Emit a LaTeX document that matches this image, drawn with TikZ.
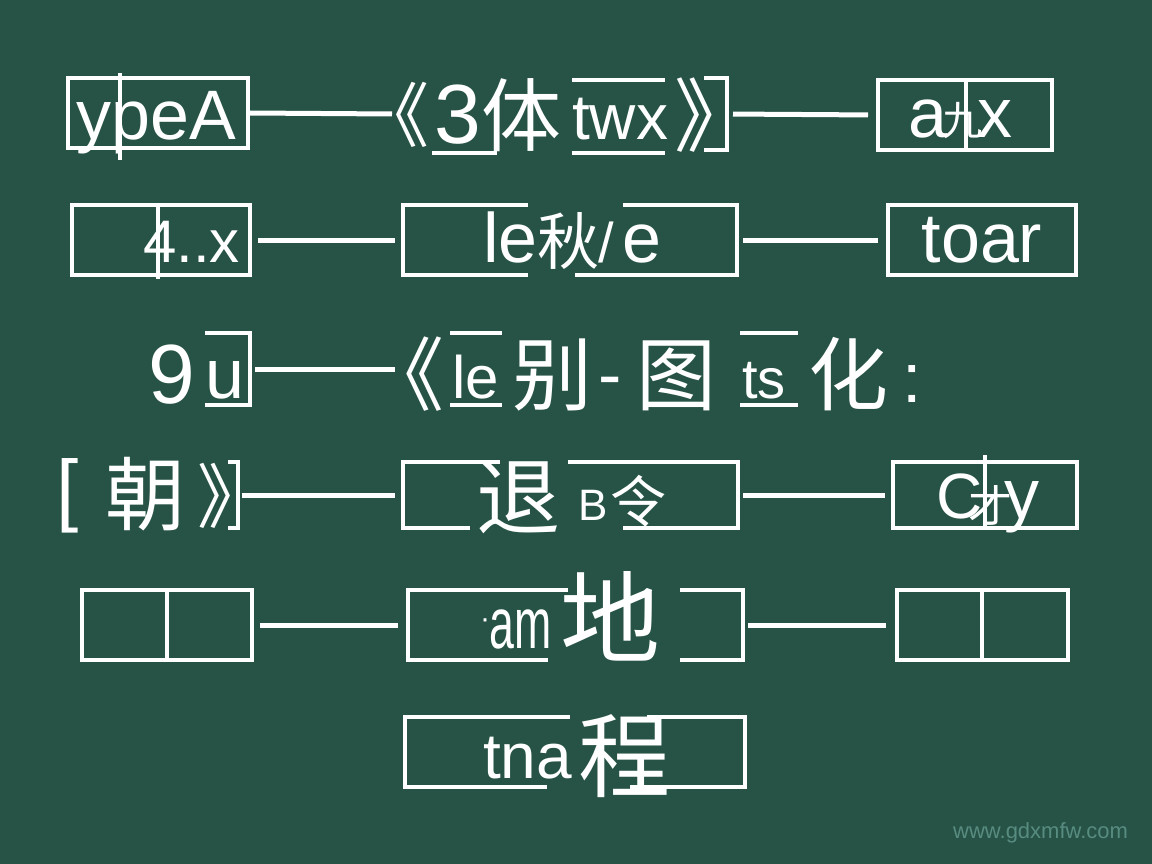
\documentclass[tikz,border=0pt]{standalone}
\usepackage{fontspec}
\setmainfont{Liberation Sans}
\newfontfamily\cjk{Noto Sans CJK SC}
\newfontfamily\narrowfont[FakeStretch=0.62]{Liberation Sans}
\usetikzlibrary{fit}
\definecolor{board}{RGB}{38,83,69}
\definecolor{wmark}{RGB}{88,140,128}
\begin{document}
\begin{tikzpicture}[x=1pt,y=-1pt,
  chalk/.style={draw=white,line width=4pt},
  wire/.style={draw=white,line width=5pt},
  boxn/.style={draw=white,line width=4pt,inner sep=0pt},
  spot/.style={inner sep=0pt,outer sep=0pt},
  lat/.style={text=white,inner sep=0pt,font=\fontsize{70}{70}\selectfont},
  han/.style={text=white,inner sep=0pt,font=\cjk\fontsize{80}{80}\selectfont}]
\fill[board] (0,0) rectangle (1152,864);
\useasboundingbox (0,0) rectangle (1152,864);

% ---------- row 1 ----------
\node[boxn, fit={(68,78) (248,148)}] (a1) {};
\draw[chalk] (120,73) -- (120,160);
\node[lat, anchor=base west] (ta1) at (76,140) {ypeA};
\node[spot, fit={(392,78) (727,150)}] (b1) {};
\node[han, font=\cjk\fontsize{70}{70}\selectfont, anchor=base] (tb1a) at (394,142) {《};
\node[lat, font=\fontsize{84}{84}\selectfont, anchor=base west] (tb1b) at (434,144) {3};
\node[han, anchor=base] (tb1c) at (521,146) {体};
\node[lat, font=\fontsize{64}{64}\selectfont, anchor=base west] (tb1d) at (572,140) {twx};
\node[han, anchor=base] (tb1e) at (714,146) {》};
\draw[chalk] (432,153) -- (497,153);
\draw[chalk] (572,80) -- (665,80);
\draw[chalk] (572,153) -- (665,153);
\draw[chalk] (704,78) -- (727,78) -- (727,150) -- (704,150);
\node[boxn, fit={(878,80) (1052,150)}] (c1) {};
\draw[chalk] (966,80) -- (966,150);
\node[lat, anchor=base west] (tc1a) at (908,138) {a};
\node[han, font=\cjk\fontsize{40}{40}\selectfont, anchor=base] (tc1b) at (962,136) {九};
\node[lat, anchor=base west] (tc1c) at (977,138) {x};
\draw[wire] (a1.east) -- (b1.west);
\draw[wire, shorten <=6pt, shorten >=8pt] (b1.east) -- (c1.west);

% ---------- row 2 ----------
\node[boxn, fit={(72,205) (250,275)}] (a2) {};
\draw[chalk] (158,205) -- (158,279);
\node[lat, font=\fontsize{60}{60}\selectfont, anchor=base west] (ta2) at (143,262) {4..x};
\node[spot, fit={(403,205) (737,275)}] (b2) {};
\draw[chalk] (528,205) -- (403,205) -- (403,275) -- (528,275);
\draw[chalk] (623,205) -- (737,205) -- (737,275) -- (575,275);
\node[lat, anchor=base west] (tb2a) at (483,262) {le};
\node[han, font=\cjk\fontsize{62}{62}\selectfont, anchor=base] (tb2b) at (568,264) {秋};
\node[lat, font=\fontsize{56}{56}\selectfont, anchor=base west] (tb2c) at (598,262) {/};
\node[lat, anchor=base west] (tb2d) at (622,262) {e};
\node[boxn, fit={(888,205) (1076,275)}] (c2) {};
\node[lat, anchor=base] (tc2) at (982,262) {toar};
\draw[wire, shorten <=6pt, shorten >=8pt] (a2.east) -- (b2.west);
\draw[wire, shorten <=6pt, shorten >=8pt] (b2.east) -- (c2.west);

% ---------- row 3 ----------
\node[spot, fit={(150,333) (250,405)}] (a3) {};
\node[lat, font=\fontsize{84}{84}\selectfont, anchor=base west] (ta3a) at (148,403) {9};
\node[lat, anchor=base west] (ta3b) at (205,398) {u};
\draw[chalk] (205,333) -- (250,333) -- (250,405) -- (205,405);
\node[spot, fit={(400,333) (920,405)}] (b3) {};
\node[han, anchor=base] (tb3a) at (404,404) {《};
\node[lat, font=\fontsize{60}{60}\selectfont, anchor=base west] (tb3b) at (452,398) {le};
\draw[chalk] (450,333) -- (502,333);
\draw[chalk] (450,405) -- (502,405);
\node[han, anchor=base] (tb3c) at (552,404) {别};
\node[lat, anchor=base west] (tb3d) at (598,398) {-};
\node[han, anchor=base] (tb3e) at (676,404) {图};
\node[lat, font=\fontsize{56}{56}\selectfont, anchor=base west] (tb3f) at (742,398) {ts};
\draw[chalk] (740,333) -- (798,333);
\draw[chalk] (740,405) -- (798,405);
\node[han, anchor=base] (tb3g) at (848,404) {化};
\node[lat, anchor=base west] (tb3h) at (902,402) {:};
\draw[wire, shorten <=5pt, shorten >=5pt] (a3.east) -- (b3.west);

% ---------- row 4 ----------
\node[spot, fit={(60,460) (240,530)}] (a4) {};
\node[lat, font=\fontsize{80}{80}\selectfont, anchor=base west] (ta4a) at (56,516) {[};
\node[han, anchor=base] (ta4b) at (145,524) {朝};
\node[han, font=\cjk\fontsize{70}{70}\selectfont, anchor=base] (ta4c) at (232,522) {》};
\draw[chalk] (228,462) -- (238,462) -- (238,528) -- (228,528);
\node[spot, fit={(403,462) (738,528)}] (b4) {};
\draw[chalk] (500,462) -- (403,462) -- (403,528) -- (470,528);
\draw[chalk] (568,462) -- (738,462) -- (738,528) -- (623,528);
\node[han, font=\cjk\fontsize{84}{84}\selectfont, anchor=base] (tb4a) at (518,528) {退};
\node[lat, font=\fontsize{44}{44}\selectfont, anchor=base west] (tb4b) at (578,520) {B};
\node[han, font=\cjk\fontsize{56}{56}\selectfont, anchor=base] (tb4c) at (638,522) {令};
\node[boxn, fit={(893,462) (1077,528)}] (c4) {};
\draw[chalk] (985,455) -- (985,530);
\node[lat, font=\fontsize{64}{64}\selectfont, anchor=base west] (tc4a) at (936,518) {C};
\node[han, font=\cjk\fontsize{44}{44}\selectfont, anchor=base] (tc4b) at (990,522) {才};
\node[lat, anchor=base west] (tc4c) at (1004,518) {y};
\draw[wire, shorten <=2pt, shorten >=8pt] (a4.east) -- (b4.west);
\draw[wire, shorten <=5pt, shorten >=6pt] (b4.east) -- (c4.west);

% ---------- row 5 ----------
\node[boxn, fit={(82,590) (252,660)}] (a5) {};
\draw[chalk] (167,590) -- (167,660);
\node[spot, fit={(408,590) (743,660)}] (b5) {};
\draw[chalk] (568,590) -- (408,590) -- (408,660) -- (548,660);
\draw[chalk] (680,590) -- (743,590) -- (743,660) -- (680,660);
\node[lat, font=\fontsize{30}{30}\selectfont, anchor=base west] (tb5a) at (480,628) {·};
\node[lat, font=\narrowfont\fontsize{72}{72}\selectfont, anchor=base west] (tb5b) at (489,648) {am};
\node[han, font=\cjk\fontsize{100}{100}\selectfont, anchor=base] (tb5c) at (610,655) {地};
\node[boxn, fit={(897,590) (1068,660)}] (c5) {};
\draw[chalk] (982,590) -- (982,660);
\draw[wire, shorten <=6pt, shorten >=10pt] (a5.east) -- (b5.west);
\draw[wire, shorten <=5pt, shorten >=9pt] (b5.east) -- (c5.west);

% ---------- row 6 ----------
\node[spot, fit={(405,717) (745,787)}] (b6) {};
\draw[chalk] (570,717) -- (405,717) -- (405,787) -- (547,787);
\draw[chalk] (647,717) -- (745,717) -- (745,787) -- (630,787);
\node[lat, font=\fontsize{64}{64}\selectfont, anchor=base west] (tb6a) at (483,778) {tna};
\node[han, font=\cjk\fontsize{92}{92}\selectfont, anchor=base] (tb6b) at (624,790) {程};

% watermark
\node[text=wmark, inner sep=0pt, font=\fontsize{22}{22}\selectfont, anchor=base west] (wm) at (953,838) {www.gdxmfw.com};
\end{tikzpicture}
\end{document}
